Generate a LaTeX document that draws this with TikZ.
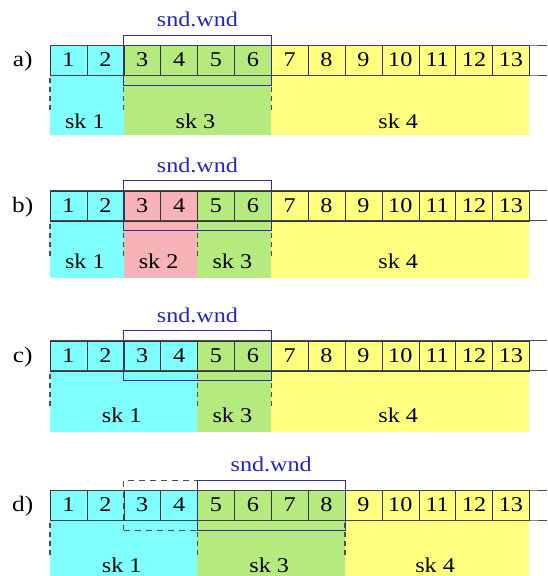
\documentclass[tikz,border=0pt]{standalone}
\usepackage{fontspec}
\setmainfont[FakeStretch=1.15]{Liberation Serif}
\usetikzlibrary{positioning,fit}
\definecolor{SegCyan}{HTML}{80FFFF}
\definecolor{SegGreen}{HTML}{B5EA7E}
\definecolor{SegYellow}{HTML}{FFFF80}
\definecolor{SegPink}{HTML}{F8B3B8}
\definecolor{WndBlue}{HTML}{2E2EA6}
\definecolor{WndText}{HTML}{2424C4}
% filled segment: colour, first cell, last cell, top, bottom
\newcommand{\seg}[5]{\fill[#1] ({50+(#2-1)*36.87},#4) rectangle ({50+#3*36.87},#5);}

\begin{document}
\begin{tikzpicture}[x=1pt, y=-1pt,
    cell/.style={draw=black!80, minimum width=36.87pt, minimum height=30pt,
      inner sep=0pt, outer sep=0pt, anchor=north west, font=\fontsize{21}{21}\selectfont},
    rowlabel/.style={font=\fontsize{22}{22}\selectfont, inner sep=0pt},
    sklabel/.style={font=\fontsize{21}{21}\selectfont, inner sep=0pt},
    rule/.style={draw=black!70, line width=0.9pt},
    sep/.style={draw=black!70, line width=1.1pt, dash pattern=on 5pt off 4pt},
    wnd/.style={draw=WndBlue, line width=0.9pt, inner xsep=0pt, inner ysep=10pt},
    oldwnd/.style={draw=black!70, line width=0.9pt, dash pattern=on 6pt off 5pt,
      inner xsep=0pt, inner ysep=10pt},
    wndlabel/.style={text=WndText, font=\fontsize{21}{21}\selectfont, inner sep=0pt}
  ]
    \useasboundingbox (0,0) rectangle (547,576);
    % segments
    \seg{SegCyan}{1}{2}{45}{135}
    \seg{SegGreen}{3}{6}{45}{135}
    \seg{SegYellow}{7}{13}{45}{135}
    \seg{SegCyan}{1}{2}{190.7}{278}
    \seg{SegPink}{3}{4}{190.7}{278}
    \seg{SegGreen}{5}{6}{190.7}{278}
    \seg{SegYellow}{7}{13}{190.7}{278}
    \seg{SegCyan}{1}{4}{340.7}{431.7}
    \seg{SegGreen}{5}{6}{340.7}{431.7}
    \seg{SegYellow}{7}{13}{340.7}{431.7}
    \seg{SegCyan}{1}{4}{490}{576}
    \seg{SegGreen}{5}{8}{490}{576}
    \seg{SegYellow}{9}{13}{490}{576}
    % cells, rules and row labels
    \foreach \row/\top in {a/45, b/190.7, c/340.7, d/490} {
      \foreach \i in {1,...,13}
        \node[cell] (\row\i) at ({50+(\i-1)*36.87},\top) {\i};
      \draw[rule] (\row1.north west) -- (\row13.north east) -- (547,\top);
      \draw[rule] (\row1.south west) -- (\row13.south east) -- (547,\top+30);
      \node[rowlabel] (l\row) at (22.7,\top+16.5) {\row)};
    }
    % segment borders
    \foreach \c in {a1,a3,a7,b1,b3,b5,b7,c1,c5,c7,d1,d5,d9}
      \draw[sep] ([yshift=-3pt]\c.south west) -- ++(0,35);
    % sk labels
    \node[sklabel] (ska1) at ({48+1*36.87},121) {sk 1};
    \node[sklabel] (ska3) at ({48+4*36.87},121) {sk 3};
    \node[sklabel] (ska4) at ({48+9.5*36.87},121) {sk 4};
    \node[sklabel] (skb1) at ({48+1*36.87},261.7) {sk 1};
    \node[sklabel] (skb2) at ({48+3*36.87},261.7) {sk 2};
    \node[sklabel] (skb3) at ({48+5*36.87},261.7) {sk 3};
    \node[sklabel] (skb4) at ({48+9.5*36.87},261.7) {sk 4};
    \node[sklabel] (skc1) at ({48+2*36.87},415.5) {sk 1};
    \node[sklabel] (skc3) at ({48+5*36.87},415.5) {sk 3};
    \node[sklabel] (skc4) at ({48+9.5*36.87},415.5) {sk 4};
    \node[sklabel] (skd1) at ({48+2*36.87},565) {sk 1};
    \node[sklabel] (skd3) at ({48+6*36.87},565) {sk 3};
    \node[sklabel] (skd4) at ({48+10.5*36.87},565) {sk 4};
    % send windows
    \node[wnd, fit=(a3)(a6)] (wa) {};
    \node[wnd, fit=(b3)(b6)] (wb) {};
    \node[wnd, fit=(c3)(c6)] (wc) {};
    \node[oldwnd, fit=(d3)(d4)] (wdold) {};
    \node[wnd, fit=(d5)(d8)] (wd) {};
    \foreach \w in {wa,wb,wc,wd}
      \node[wndlabel] (t\w) at ([yshift=15pt]\w.north) {snd.wnd};
  \end{tikzpicture}
\end{document}
